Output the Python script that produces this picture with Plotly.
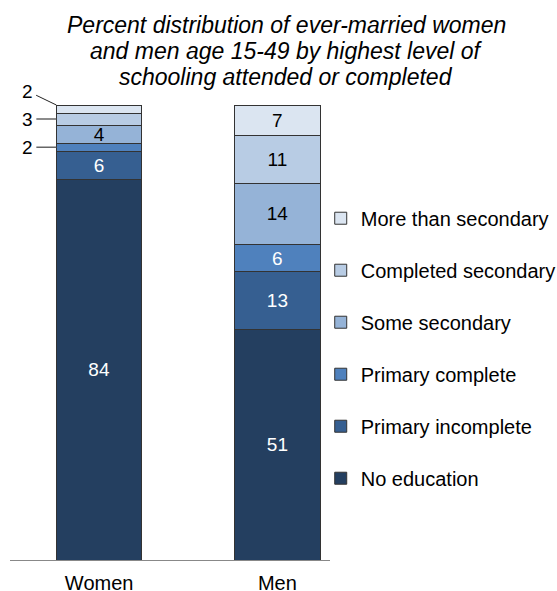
import plotly.graph_objects as go

groups = ["Women", "Men"]
levels = ["No education", "Primary incomplete", "Primary complete",
          "Some secondary", "Completed secondary", "More than secondary"]
women = [83.6, 6.2, 1.8, 4.0, 2.6, 1.8]
men = [50.6, 12.8, 5.9, 13.5, 10.6, 6.6]
women_labels = ["84", "6", "2", "4", "3", "2"]
men_labels = ["51", "13", "6", "14", "11", "7"]
title_lines = ["Percent distribution of ever-married women",
               "and men age 15-49 by highest level of",
               "schooling attended or completed"]
colors = ["#243F60", "#365F91", "#4F81BD", "#95B3D7", "#B8CCE4", "#DBE5F1"]
text_colors = ["white", "white", "white", "black", "black", "black"]
# women segments labelled with callouts outside the bar
callout_idx = [2, 4, 5]

FONT = "Liberation Sans, Arial, sans-serif"
BAR_W = 0.48
PLOT_TOP, PLOT_BOT = 105, 560

fig = go.Figure()
for i, lvl in enumerate(levels):
    wt = "" if i in callout_idx else women_labels[i]
    fig.add_trace(go.Bar(
        x=groups, y=[women[i], men[i]], name=lvl,
        text=[wt, men_labels[i]], textposition="inside",
        insidetextanchor="middle", constraintext="none", textangle=0,
        textfont=dict(color=text_colors[i], size=19, family=FONT),
        marker=dict(color=colors[i], line=dict(color="#333333", width=1)),
        width=BAR_W, legendgroup=lvl, legendrank=len(levels) - i,
        hoverinfo="skip",
    ))

# callout annotations for the small women segments
cum = [sum(women[:k]) for k in range(len(women) + 1)]
offsets = {2: (-29, 0), 4: (-29, 0), 5: (-29, -14)}
for i in callout_idx:
    yv = cum[len(women)] if i == 5 else (cum[i] + cum[i + 1]) / 2
    ax, ay = offsets[i]
    fig.add_annotation(
        x=-BAR_W / 2, y=yv, xref="x", yref="y",
        text=women_labels[i], showarrow=True, arrowhead=0,
        arrowwidth=1.5 if i != 5 else 1, arrowcolor="#666666" if i != 5 else "#222222",
        ax=ax, ay=ay, standoff=0, startstandoff=2,
        font=dict(size=19, color="black", family=FONT),
    )

# title lines
ph = PLOT_BOT - PLOT_TOP
for k, line in enumerate(title_lines):
    ypix = 25 + 26 * k
    fig.add_annotation(
        x=(286 - 10) / 320, xref="paper", xanchor="center",
        y=(PLOT_BOT - ypix) / ph, yref="paper", yanchor="middle",
        text="<i>" + line + "</i>", showarrow=False,
        font=dict(size=23, family=FONT, color="black"),
    )

fig.update_layout(
    barmode="stack",
    width=557, height=591,
    margin=dict(l=10, r=227, t=PLOT_TOP, b=591 - PLOT_BOT, autoexpand=False),
    paper_bgcolor="white", plot_bgcolor="white",
    font=dict(family=FONT, size=19, color="black"),
    xaxis=dict(range=[-0.5, 1.295], showline=True, linecolor="#888888",
               linewidth=1, ticks="", showgrid=False, automargin=False,
               ticklabelstandoff=5,
               tickfont=dict(size=20, family=FONT, color="black")),
    yaxis=dict(range=[0, 100], visible=False, showgrid=False, automargin=False),
    legend=dict(
        x=0.971, xanchor="left", y=0.794, yanchor="top",
        traceorder="grouped", tracegroupgap=23,
        font=dict(size=20, family=FONT, color="black"),
        bgcolor="rgba(0,0,0,0)",
    ),
    showlegend=True,
)

fig.write_html("out.html")
